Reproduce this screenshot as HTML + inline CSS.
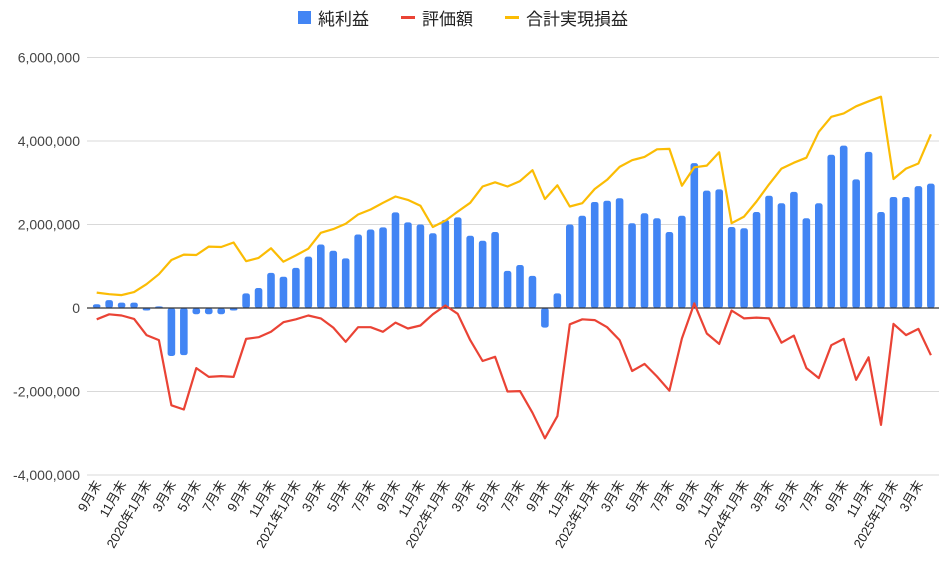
<!DOCTYPE html>
<html><head><meta charset="utf-8">
<style>
body{margin:0;background:#fff;}
svg{display:block;font-family:"Liberation Sans","Noto Sans CJK JP",sans-serif;}
</style></head>
<body>
<svg id="chart" width="945" height="572" viewBox="0 0 945 572" xmlns="http://www.w3.org/2000/svg">
<g id="legend">
  <g>
    <rect x="298" y="11" width="13" height="13" fill="#4285f4"/>
    <text x="318" y="25" font-size="17" fill="#222">純利益</text>
  </g>
  <g>
    <rect x="401" y="16" width="14" height="3" fill="#ea4335"/>
    <text x="422" y="25" font-size="17" fill="#222">評価額</text>
  </g>
  <g>
    <rect x="505" y="16" width="14" height="3" fill="#fbbc04"/>
    <text x="526" y="25" font-size="17" fill="#222">合計実現損益</text>
  </g>
</g>
<g id="grid"></g>
<g id="bars"></g>
<g id="lines"></g>
<g id="xlabels"></g>
</svg>
<script>
const netProfit=[0.09,0.19,0.13,0.13,-0.06,0.04,-1.15,-1.13,-0.15,-0.15,-0.15,-0.06,0.35,0.48,0.84,0.75,0.96,1.23,1.52,1.37,1.19,1.76,1.88,1.93,2.29,2.05,2.0,1.79,2.11,2.17,1.73,1.61,1.82,0.89,1.03,0.77,-0.47,0.35,2.0,2.21,2.54,2.57,2.63,2.03,2.27,2.15,1.82,2.21,3.47,2.81,2.84,1.94,1.91,2.30,2.69,2.51,2.78,2.15,2.51,3.67,3.89,3.08,3.74,2.30,2.66,2.66,2.92,2.98];
const valuation=[-0.27,-0.15,-0.18,-0.26,-0.65,-0.77,-2.33,-2.43,-1.44,-1.65,-1.63,-1.65,-0.74,-0.70,-0.57,-0.34,-0.27,-0.18,-0.25,-0.47,-0.81,-0.46,-0.46,-0.57,-0.35,-0.49,-0.42,-0.15,0.06,-0.14,-0.77,-1.27,-1.17,-2.0,-1.99,-2.51,-3.12,-2.59,-0.39,-0.27,-0.29,-0.46,-0.77,-1.51,-1.34,-1.64,-1.98,-0.73,0.11,-0.61,-0.86,-0.06,-0.25,-0.23,-0.25,-0.83,-0.66,-1.44,-1.68,-0.89,-0.74,-1.72,-1.18,-2.8,-0.38,-0.65,-0.50,-1.13];
const realizedTotal=[0.37,0.33,0.31,0.38,0.57,0.81,1.15,1.28,1.27,1.47,1.46,1.57,1.12,1.2,1.43,1.11,1.26,1.42,1.80,1.89,2.02,2.24,2.36,2.52,2.67,2.59,2.45,1.94,2.09,2.31,2.52,2.91,3.01,2.91,3.04,3.30,2.61,2.94,2.43,2.51,2.85,3.07,3.38,3.54,3.62,3.80,3.81,2.93,3.37,3.41,3.73,2.03,2.19,2.55,2.96,3.34,3.48,3.60,4.22,4.58,4.66,4.83,4.95,5.06,3.09,3.34,3.46,4.16];
const yTicks=[-4,-2,0,2,4,6];
const yTickLabels=["-4,000,000","-2,000,000","0","2,000,000","4,000,000","6,000,000"];
const startYear=2019,startMonth=9;

const NS="http://www.w3.org/2000/svg";
const X0=96.7,DX=12.45,PLOT_L=87,PLOT_R=939;
function xs(i){return X0+DX*i;}
function ys(v){return 308-v*41.75;}
function mk(tag,attrs,parent){const e=document.createElementNS(NS,tag);for(const k in attrs)e.setAttribute(k,attrs[k]);parent.appendChild(e);return e;}

const grid=document.getElementById('grid');
yTicks.forEach((t,k)=>{
  const y=ys(t);
  const ln=mk('line',{x1:PLOT_L,x2:PLOT_R,y1:y,y2:y,stroke:'#d9d9d9','stroke-width':1},grid);
  
  
  const tx=mk('text',{x:80,y:y+5,'text-anchor':'end','font-size':14,fill:'#444'},grid);
  tx.textContent=yTickLabels[k];
  
  
});

const bars=document.getElementById('bars');
netProfit.forEach((v,i)=>{
  const y0=ys(0),y1=ys(v);
  const top=Math.min(y0,y1),h=Math.max(Math.abs(y1-y0),1.5);
  const r=mk('rect',{x:xs(i)-3.8,y:top,width:7.6,height:h,rx:2.5,fill:'#4285f4'},bars);
  
  
});
const zl=mk('line',{x1:PLOT_L,x2:PLOT_R,y1:ys(0),y2:ys(0),stroke:'#333','stroke-width':1.2},bars);



const lines=document.getElementById('lines');
function drawLine(arr,color,name){
  const p=mk('polyline',{points:arr.map((v,i)=>xs(i).toFixed(1)+','+ys(v).toFixed(1)).join(' '),fill:'none',stroke:color,'stroke-width':2.2,'stroke-linejoin':'round'},lines);
  
  
}
drawLine(valuation,'#ea4335','valuation-line');
drawLine(realizedTotal,'#fbbc04','realized-total-line');

const xl=document.getElementById('xlabels');
for(let i=0;i<netProfit.length;i+=2){
  const m0=startMonth-1+i;
  const yr=startYear+Math.floor(m0/12),mo=m0%12+1;
  const label=(mo===1?yr+'年':'')+mo+'月末';
  const x=xs(i)+5,y=484;
  const t=mk('text',{x:x,y:y,'text-anchor':'end','font-size':13,fill:'#222',transform:'rotate(-60 '+x+' '+y+')'},xl);
  t.textContent=label;
  
  
}
</script>
</body></html>
